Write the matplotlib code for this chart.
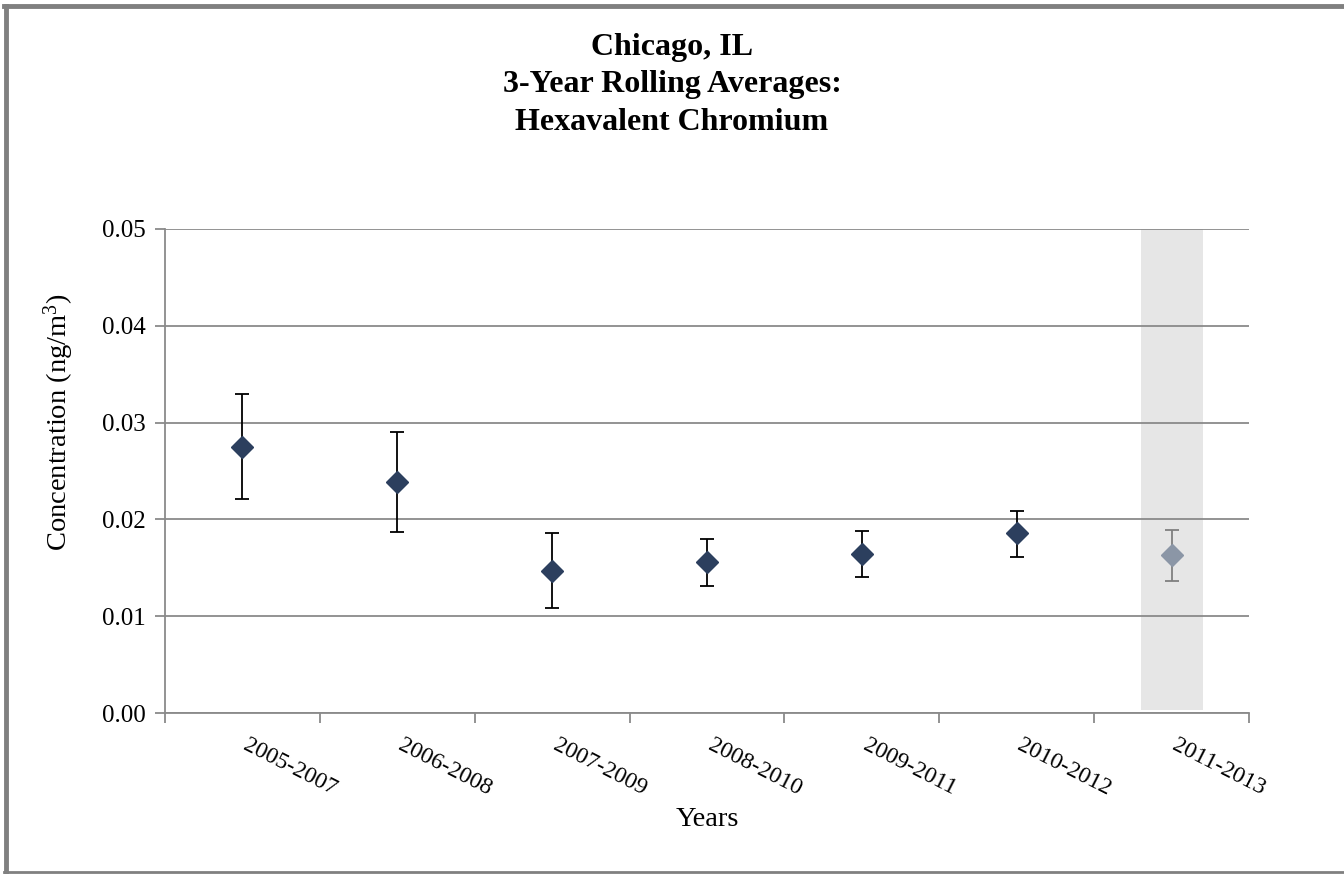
import numpy as np
import matplotlib
matplotlib.use("Agg")
import matplotlib.pyplot as plt
import matplotlib.transforms as mtransforms
from matplotlib.lines import Line2D

plt.rcParams['font.family'] = ['Liberation Serif', 'DejaVu Serif']
plt.rcParams['mathtext.default'] = 'regular'

# 3-year rolling averages and their confidence bounds
periods = ['2005-2007', '2006-2008', '2007-2009', '2008-2010',
           '2009-2011', '2010-2012', '2011-2013']
averages = [0.0275, 0.0239, 0.0147, 0.0156, 0.0164, 0.0186, 0.0163]
upper = [0.0330, 0.0290, 0.0186, 0.0180, 0.0188, 0.0209, 0.0189]
lower = [0.0221, 0.0187, 0.0108, 0.0131, 0.0140, 0.0161, 0.0136]

avg = np.array(averages)
err = np.array([avg - np.array(lower), np.array(upper) - avg])
x = np.arange(len(periods))

fig = plt.figure(figsize=(13.44, 8.74), dpi=100)
ax = fig.add_axes([0.1228, 0.1842, 0.8065, 0.5538])

grid_gray = '#8a8a8a'

# shaded column behind the incomplete period
ax.axvspan(x[-1] - 0.2, x[-1] + 0.2, ymin=0.006, ymax=1.0,
           color='#e6e6e6', zorder=0.5, lw=0)

# full periods
ax.errorbar(x[:-1], avg[:-1], yerr=err[:, :-1], fmt='D', ms=11,
            color='#2c3f5e', mec='#2c3f5e', ecolor='black', elinewidth=1.3,
            capsize=4.8, capthick=1.3, zorder=3)
# latest period, greyed out
ax.errorbar(x[-1:], avg[-1:], yerr=err[:, -1:], fmt='D', ms=11,
            color='#8b96a6', mec='#8b96a6', ecolor='#7f7f7f', elinewidth=1.3,
            capsize=4.8, capthick=1.3, zorder=3)

ax.set_xlim(-0.5, len(periods) - 0.5)
ax.set_ylim(0, 0.05)
yt = np.arange(0, 0.051, 0.01)
ax.set_yticks(yt)
ax.set_yticklabels([f'{v:.2f}' for v in yt])
ax.yaxis.grid(True, color=grid_gray, lw=1.3)
ax.set_axisbelow(True)

for side in ['top', 'right']:
    ax.spines[side].set_visible(False)
for side in ['left', 'bottom']:
    ax.spines[side].set_color(grid_gray)
    ax.spines[side].set_linewidth(1.3)

# category boundaries as major ticks, labels on minor ticks at the centres
ax.set_xticks(np.arange(-0.5, len(periods), 1.0))
ax.set_xticklabels([])
ax.set_xticks(x, minor=True)
ax.set_xticklabels(periods, minor=True, rotation=-27, ha='left', va='top',
                   rotation_mode='anchor', fontsize=17)
ax.tick_params(axis='x', which='major', length=7, width=1.3, color=grid_gray)
ax.tick_params(axis='x', which='minor', length=0, pad=16)
ax.tick_params(axis='y', length=7, width=1.3, color=grid_gray, labelsize=18, pad=7)

shift = mtransforms.ScaledTranslation(7 / 100, 0, fig.dpi_scale_trans)
for lab in ax.get_xticklabels(minor=True):
    lab.set_transform(lab.get_transform() + shift)

ax.set_xlabel('Years', fontsize=20.5, labelpad=5)
ax.set_ylabel('Concentration (ng/m$^3$)', fontsize=20.5, va='center')
ax.yaxis.set_label_coords(-0.0985, 0.601)

fig.text(0.5, 1 - 33 / 874, 'Chicago, IL\n3-Year Rolling Averages:\nHexavalent Chromium',
         ha='center', va='top', fontsize=23, fontweight='bold', linespacing=1.38)

# outer frame
frame = dict(color='#808080', transform=fig.transFigure)
fig.add_artist(Line2D([6 / 1344, 6 / 1344], [0.003, 1 - 6 / 874], lw=3.5, **frame))
fig.add_artist(Line2D([4 / 1344, 1.0], [1 - 6 / 874, 1 - 6 / 874], lw=3.5, **frame))
fig.add_artist(Line2D([4 / 1344, 1.0], [2.5 / 874, 2.5 / 874], lw=2, **frame))

fig.savefig('out.png', dpi=100, facecolor='white')
